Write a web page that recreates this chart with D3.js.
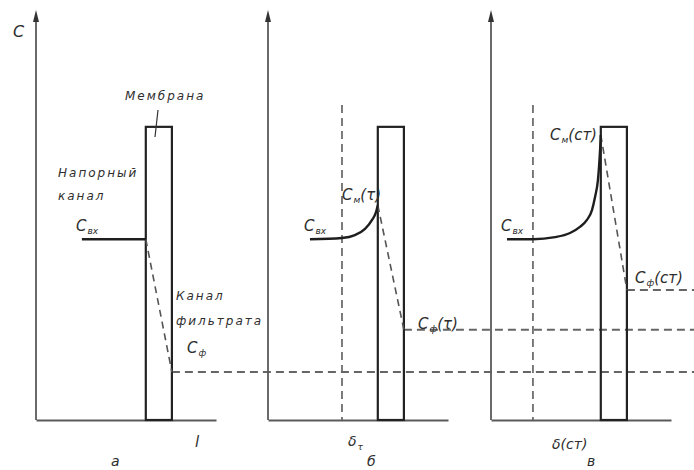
<!DOCTYPE html>
<html lang="ru">
<head>
<meta charset="utf-8">
<title>Концентрационная поляризация</title>
<script src="https://d3js.org/d3.v7.min.js"></script>
<style>
  body { margin: 0; background: #fff; }
  svg { display: block; background: #fff; }
  .lbl { font-family: "DejaVu Sans", "Liberation Sans", sans-serif; font-style: italic; fill: #2e2e2e; }
  .word { font-size: 12px; letter-spacing: 2px; }
  .sym { font-size: 15px; }
  .sub { font-size: 9px; }
  .axis path { stroke: #5a5a5a; stroke-width: 1.8px; }
</style>
</head>
<body>
<div id="chart"></div>
<script>
// panel captions and per-panel values (C in arbitrary units, l in % of axis length)
var panelNames = ["а", "б", "в"];
var feedC = [44.1, 44.1, 44.1];          // C вх
var wallC = [44.1, 52.4, 69.5];          // C м at membrane surface
var permC = [11.7, 22.0, 31.7];          // C ф
var feedStart = [25.5, 23.3, 8.9];       // where the feed line starts
var deltaPos = [null, 41.1, 23.3];       // boundary layer edge δ
var membraneL = [61, 75.5];
var membraneTop = 71.5;
var deltaTop = 76.8;

// concentration profiles
var profileA = [[25.5, 44.1], [61, 44.1]];
var profileB = [[23.3, 44.1], [41.1, 44.4], [48.3, 45.1], [53.9, 46.6], [57.8, 48.8], [60, 50.7], [61, 52.4]];
var profileV = [[8.9, 44.1], [23.3, 44.1], [35.6, 44.6], [43.9, 45.6], [49.4, 47.1], [53.3, 48.8],
                [56.1, 51.2], [57.8, 54.4], [59.4, 58.5], [60, 61.7], [60.6, 65.9], [61, 69.5]];
var profiles = [profileA, profileB, profileV];

var width = 694, height = 470;
var origins = [36, 268, 491];
var panelW = 180;

var svg = d3.select("#chart").append("svg")
  .attr("width", width).attr("height", height);

var y = d3.scaleLinear().domain([0, 100]).range([420, 10]);

var line = d3.line()
  .x(function(d) { return d[0]; })
  .y(function(d) { return d[1]; })
  .curve(d3.curveMonotoneX);

var dash = "8,5";

function sym(g, x0, y0, main, sub, tail) {
  var t = g.append("text").attr("class", "lbl sym").attr("x", x0).attr("y", y0);
  t.append("tspan").text(main);
  t.append("tspan").attr("class", "sub").attr("dy", 3).attr("dx", 1).text(sub);
  if (tail) t.append("tspan").attr("dy", -3).text(tail);
  return t;
}

panelNames.forEach(function(name, i) {
  var x = d3.scaleLinear().domain([0, 100]).range([origins[i], origins[i] + panelW]);
  var g = svg.append("g");

  // horizontal permeate level, runs to the right edge
  g.append("line")
    .attr("x1", x(membraneL[1])).attr("x2", width)
    .attr("y1", y(permC[i])).attr("y2", y(permC[i]))
    .attr("stroke", "#666").attr("stroke-width", 2)
    .attr("stroke-dasharray", dash);

  // axes
  g.append("g").attr("class", "axis")
    .attr("transform", "translate(0," + y(0) + ")")
    .call(d3.axisBottom(x).tickValues([]).tickSizeOuter(0));
  g.append("line")
    .attr("x1", x(0)).attr("x2", x(0))
    .attr("y1", y(0)).attr("y2", y(100) + 12)
    .attr("stroke", "#5a5a5a").attr("stroke-width", 1.8);
  g.append("path")
    .attr("d", "M" + (x(0) - 3) + "," + (y(100) + 12) + "L" + x(0) + "," + y(100) +
               "L" + (x(0) + 3) + "," + (y(100) + 12) + "Z")
    .attr("fill", "#333");

  // boundary layer edge
  if (deltaPos[i] !== null) {
    g.append("line")
      .attr("x1", x(deltaPos[i])).attr("x2", x(deltaPos[i]))
      .attr("y1", y(deltaTop)).attr("y2", y(0))
      .attr("stroke", "#666").attr("stroke-width", 1.7)
      .attr("stroke-dasharray", dash);
  }

  // membrane
  g.append("rect")
    .attr("x", x(membraneL[0])).attr("y", y(membraneTop))
    .attr("width", x(membraneL[1]) - x(membraneL[0]))
    .attr("height", y(0) - y(membraneTop))
    .attr("fill", "none").attr("stroke", "#222").attr("stroke-width", 2.2);

  // drop of concentration through membrane
  g.append("line")
    .attr("x1", x(membraneL[0])).attr("y1", y(wallC[i]))
    .attr("x2", x(membraneL[1])).attr("y2", y(permC[i]))
    .attr("stroke", "#555").attr("stroke-width", 1.6)
    .attr("stroke-dasharray", "7,5");

  // feed side profile
  g.append("path")
    .datum(profiles[i].map(function(d) { return [x(d[0]), y(d[1])]; }))
    .attr("d", line)
    .attr("fill", "none").attr("stroke", "#1e1e1e").attr("stroke-width", 2.4);

  // labels
  sym(g, x(feedStart[i]) - 6, y(feedC[i]) - 8, "C", "вх");
});

// panel а texts
svg.append("text").attr("class", "lbl").attr("font-size", 16).attr("x", 13).attr("y", 37).text("C");
svg.append("text").attr("class", "lbl word").attr("x", 125).attr("y", 100).text("Мембрана");
svg.append("line").attr("x1", 158).attr("y1", 110).attr("x2", 155).attr("y2", 137)
  .attr("stroke", "#333").attr("stroke-width", 1.2);
svg.append("text").attr("class", "lbl word").attr("x", 58).attr("y", 177).text("Напорный");
svg.append("text").attr("class", "lbl word").attr("x", 58).attr("y", 200).text("канал");
svg.append("text").attr("class", "lbl word").attr("x", 176).attr("y", 300).text("Канал");
svg.append("text").attr("class", "lbl word").attr("x", 176).attr("y", 325).text("фильтрата");
sym(svg, 187, 353, "C", "ф");
svg.append("text").attr("class", "lbl").attr("font-size", 15).attr("x", 195).attr("y", 447).text("l");
svg.append("text").attr("class", "lbl").attr("font-size", 14).attr("x", 111).attr("y", 466).text("а");

// panel б texts
sym(svg, 342, 200, "C", "м", "(τ)");
sym(svg, 418, 329, "C", "ф", "(τ)");
var dt = svg.append("text").attr("class", "lbl").attr("font-size", 14).attr("x", 348).attr("y", 446);
dt.append("tspan").text("δ");
dt.append("tspan").attr("class", "sub").attr("dy", 4).attr("dx", 1).text("τ");
svg.append("text").attr("class", "lbl").attr("font-size", 14).attr("x", 367).attr("y", 466).text("б");

// panel в texts
sym(svg, 550, 140, "C", "м", "(ст)");
sym(svg, 635, 283, "C", "ф", "(ст)");
svg.append("text").attr("class", "lbl").attr("font-size", 14).attr("x", 552).attr("y", 449).text("δ(ст)");
svg.append("text").attr("class", "lbl").attr("font-size", 14).attr("x", 587).attr("y", 466).text("в");
</script>
</body>
</html>
